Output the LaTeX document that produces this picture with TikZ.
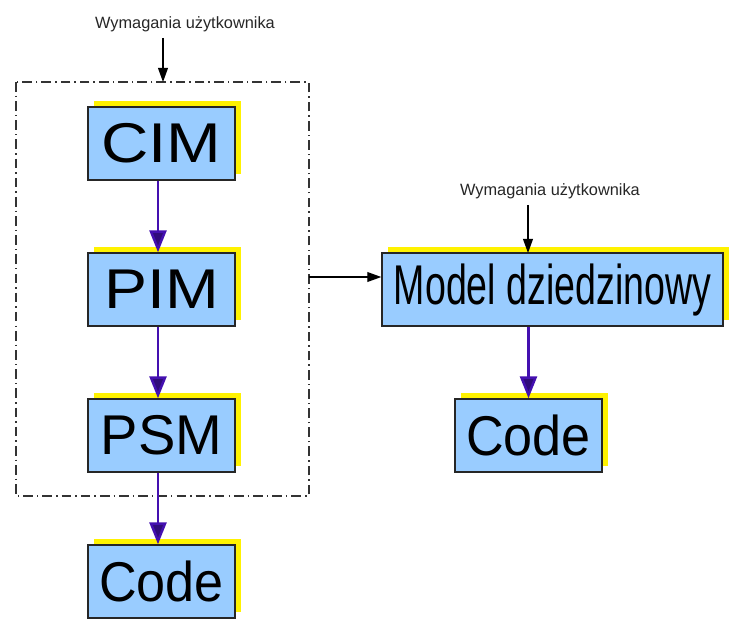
\documentclass[tikz,border=0pt]{standalone}
\usepackage{fontspec}
\setmainfont{Liberation Sans}
\usetikzlibrary{arrows.meta,shadows}
\definecolor{boxblue}{HTML}{99CCFF}
\definecolor{flowpurple}{HTML}{4410B0}
\begin{document}
\begin{tikzpicture}[x=0.02cm, y=-0.02cm]
                \useasboundingbox (0,0) rectangle (751,637);

                \tikzset{
                    model/.style = {draw=black!85, line width=0.8pt, fill=boxblue,
                        minimum width=2.94cm, minimum height=1.46cm, inner sep=0pt,
                        font=\fontsize{31.9}{36}\selectfont,
                        drop shadow={fill=yellow, opacity=1, shadow xshift=0.12cm, shadow yshift=0.12cm}},
                    req/.style = {font=\fontsize{9.3}{11}\selectfont, text=black!85},
                    flow/.style = {draw=flowpurple, line width=1.4pt,
                        -{Triangle[length=12.5pt, width=9.7pt, fill=flowpurple!70!black]}},
                    feed/.style = {draw=black, line width=0.7pt, -{Triangle[length=8pt, width=5.6pt]}},
                    frame/.style = {draw=black!80, line width=0.9pt,
                        dash pattern=on 5.5pt off 2.3pt on 0.8pt off 2.3pt},
                }

                % MDA chain inside the frame
                \draw[frame] (16,82) rectangle (309,496);

                \node[model] (cim) at (161.5,143.5) {\scalebox{1.17}[1]{CIM}};
                \node[model] (pim) at (161.5,289.5) {\scalebox{1.15}[1]{PIM}};
                \node[model] (psm) at (161.5,435.5) {PSM};
                \node[model] (code) at (161.5,581.5) {\scalebox{0.93}[1]{Code}};

                \node[req] (reqa) at (185,24) {Wymagania użytkownika};
                \coordinate (frametop) at (163,82);
                \coordinate (frameside) at (309,277);

                % domain model on the right
                \node[model, minimum width=6.82cm] (dom) at (552.5,289.5) {\scalebox{0.67}[1]{Model dziedzinowy}};
                \node[model] (codeb) at (528.5,435.5) {\scalebox{0.93}[1]{Code}};
                \node[req] (reqb) at (550,191) {Wymagania użytkownika};
                \coordinate (domtop) at (528,253);

                \draw[flow] ([xshift=-0.07cm]cim.south) -- ([xshift=-0.07cm]pim.north);
                \draw[flow] ([xshift=-0.07cm]pim.south) -- ([xshift=-0.07cm]psm.north);
                \draw[flow] ([xshift=-0.07cm]psm.south) -- ([xshift=-0.07cm]code.north);
                \draw[flow] (dom.south -| codeb) -- (codeb);

                \draw[feed] (reqa.south -| frametop) -- (frametop);
                \draw[feed] (reqb.south -| domtop) -- (domtop);
                \draw[feed] (frameside) -- (frameside -| dom.west);

\end{tikzpicture}
\end{document}
